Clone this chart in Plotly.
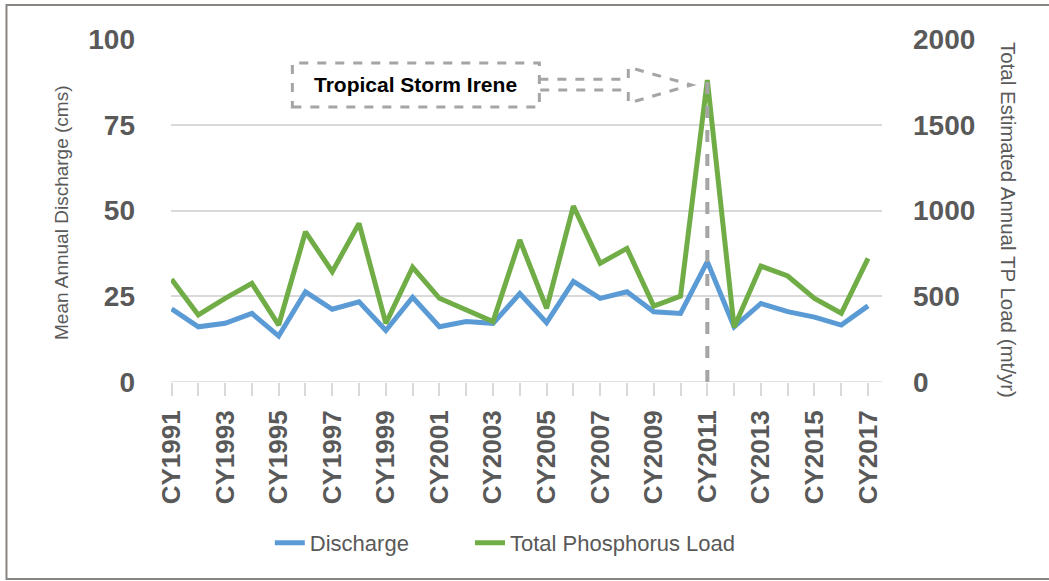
import plotly.graph_objects as go

years = list(range(1991, 2018))
tick_labels = [f"CY{y}" if (y - 1991) % 2 == 0 else "" for y in years]

discharge = [21.3, 16.1, 17.1, 20.0, 13.4, 26.3, 21.2, 23.4, 15.0, 24.7,
             16.1, 17.6, 17.1, 25.8, 17.3, 29.3, 24.4, 26.3, 20.5, 20.0,
             35.1, 16.1, 22.9, 20.5, 18.9, 16.6, 22.2]
tp_load = [599, 391, 488, 575, 332, 876, 643, 925, 342, 669,
           488, 420, 352, 828, 430, 1026, 692, 779, 443, 501,
           1761, 319, 676, 618, 488, 401, 721]

event_year = 2011
event_label = "Tropical Storm Irene"

GRAY_TXT = "#595959"
GRID = "#d9d9d9"
DASH = "#a5a5a5"
FONT = "Liberation Sans"

fig = go.Figure()
fig.add_trace(go.Scatter(x=years, y=discharge, name="Discharge", mode="lines",
                         line=dict(color="#5B9BD5", width=5), legend="legend", showlegend=True))
fig.add_trace(go.Scatter(x=years, y=tp_load, name="Total Phosphorus Load", mode="lines",
                         line=dict(color="#70AD47", width=5), yaxis="y2", legend="legend2",
                         showlegend=True))

# vertical dashed event line
peak = tp_load[years.index(event_year)]
fig.add_shape(type="line", xref="x", yref="y2", x0=event_year, x1=event_year,
              y0=0, y1=peak, line=dict(color=DASH, width=4, dash="dash"))

# dashed callout box
bx0, bx1, by0, by1 = 1995.51, 2004.73, 80.2, 93.0
fig.add_shape(type="rect", xref="x", yref="y", x0=bx0, x1=bx1, y0=by0, y1=by1,
              line=dict(color=DASH, width=3, dash="dash"))
# block arrow outline
sh_top, sh_bot = 88.3, 85.1
hd_base, tip_x, tip_y = 2008.05, 2010.4, 86.6
hd_top, hd_bot = 91.8, 81.3
path = (f"M {bx1},{sh_top} L {hd_base},{sh_top} L {hd_base},{hd_top} "
        f"L {tip_x},{tip_y} L {hd_base},{hd_bot} L {hd_base},{sh_bot} L {bx1},{sh_bot}")
fig.add_shape(type="path", xref="x", yref="y", path=path,
              line=dict(color=DASH, width=3, dash="dash"))
fig.add_annotation(x=(bx0 + bx1) / 2, y=(by0 + by1) / 2, xref="x", yref="y",
                   text=f"<b>{event_label}</b>", showarrow=False,
                   font=dict(family=FONT, size=21, color="#000000"))

# outer border: left, top and bottom edges only (right edge is outside the picture)
bl, br, bb, bt = -0.2314, 1.30, -0.5743, 1.0991
fig.add_shape(type="path", xref="paper", yref="paper",
              path=f"M {br},{bt} L {bl},{bt} L {bl},{bb} L {br},{bb}",
              line=dict(color="#8a8580", width=2), layer="below")

# axis titles
fig.add_annotation(x=-0.1547, y=0.4927, xref="paper", yref="paper",
                   xanchor="center", yanchor="middle",
                   text="Mean Annual Discharge (cms)", textangle=-90, showarrow=False,
                   font=dict(family=FONT, size=19, color=GRAY_TXT))
fig.add_annotation(x=1.1786, y=0.4723, xref="paper", yref="paper",
                   xanchor="center", yanchor="middle",
                   text="Total Estimated Annual TP Load (mt/yr)", textangle=90, showarrow=False,
                   font=dict(family=FONT, size=20.5, color=GRAY_TXT))

legend_font = dict(family=FONT, size=22, color=GRAY_TXT)
fig.update_layout(
    width=1049, height=581,
    margin=dict(l=171, r=167, t=39, b=199),
    paper_bgcolor="white", plot_bgcolor="white",
    showlegend=True,
    font=dict(family=FONT, color=GRAY_TXT),
    xaxis=dict(range=[1990.98, 2017.52], tickmode="array", tickvals=years, ticktext=tick_labels,
               tickangle=-90, tickfont=dict(family=FONT, size=26, color=GRAY_TXT, weight="bold"),
               ticks="outside", ticklen=13, tickcolor=GRID, tickwidth=1.5,
               showline=False, showgrid=False, zeroline=False, ticklabelstandoff=4),
    yaxis=dict(range=[0, 100], tickvals=[0, 25, 50, 75, 100],
               tickfont=dict(family=FONT, size=28, color=GRAY_TXT, weight="bold"),
               showgrid=True, gridcolor=GRID, gridwidth=1.5, zeroline=False,
               showline=False, ticks="", ticklabelstandoff=35),
    yaxis2=dict(range=[0, 2000], tickvals=[0, 500, 1000, 1500, 2000], overlaying="y", side="right",
                tickfont=dict(family=FONT, size=28, color=GRAY_TXT, weight="bold"),
                showgrid=False, zeroline=False, showline=False, ticks="", ticklabelstandoff=30),
    legend=dict(orientation="h", x=0.139, y=-0.469, xanchor="left", yanchor="middle",
                font=legend_font, visible=True),
    legend2=dict(orientation="h", x=0.4205, y=-0.469, xanchor="left", yanchor="middle",
                 font=legend_font, visible=True),
)
# bottom axis line at zero
fig.add_shape(type="line", xref="paper", yref="y", x0=0, x1=1, y0=0, y1=0,
              line=dict(color=GRID, width=1.5), layer="below")

fig.write_html("out.html", config={"displayModeBar": False},
               post_script="document.body.style.margin='0';")
